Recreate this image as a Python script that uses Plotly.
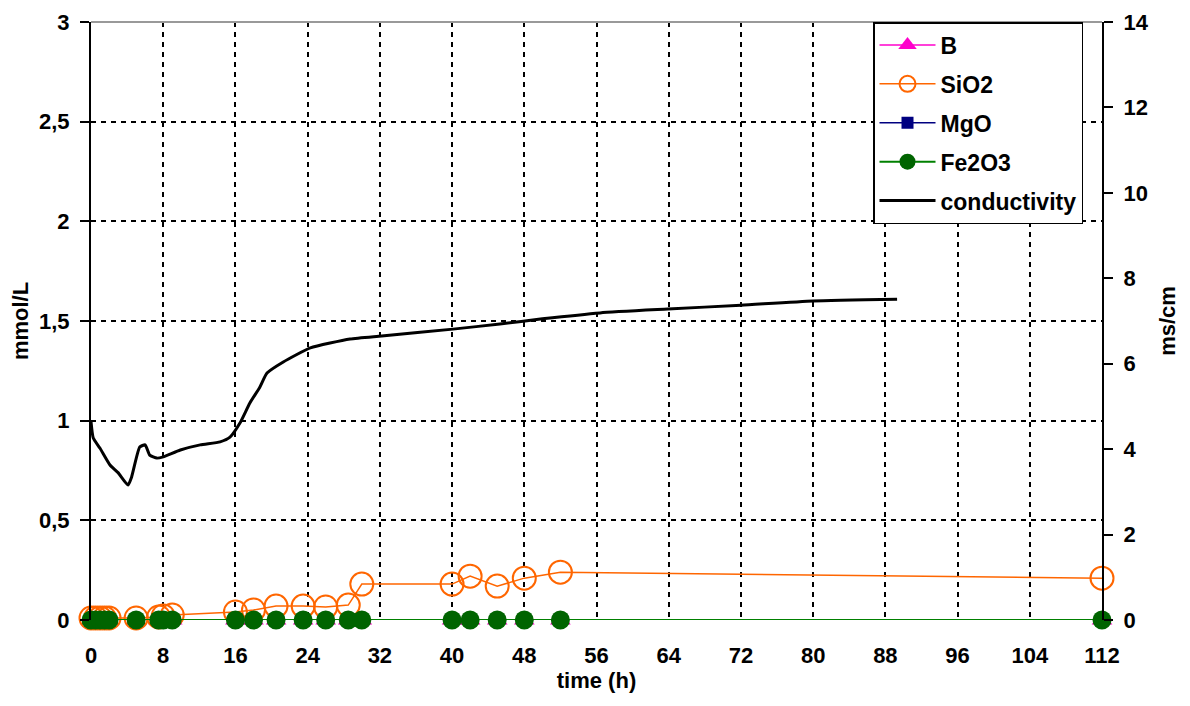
import plotly.graph_objects as go

# ---- data ----
sample_time_h = [0, 0.5, 1, 1.5, 2, 5, 7.5, 8, 9, 16, 18, 20.5, 23.5, 26, 28.5, 30,
                 40, 42, 45, 48, 52, 112]
b_mmol = [0] * 22
sio2_mmol = [0.01, 0.01, 0.01, 0.01, 0.01, 0.01, 0.015, 0.02, 0.025, 0.04, 0.05, 0.07,
             0.07, 0.065, 0.075, 0.18, 0.18, 0.22, 0.17, 0.21, 0.24, 0.21]
mgo_mmol = [0] * 22
fe2o3_mmol = [0] * 22

cond_time_h = [0, 0.25, 1.0, 2.1, 3.0, 4.1, 4.5, 5.4, 6.0, 6.5, 7.3, 8.0, 9.9, 12.1,
               14.3, 15.4, 16.5, 17.6, 18.7, 19.5, 21.3, 24.3, 28.7, 32.2, 40.1, 45.3,
               50.0, 56.4, 63.9, 72.0, 80.0, 89.3]
cond_ms = [4.65, 4.26, 4.02, 3.63, 3.45, 3.16, 3.35, 4.05, 4.10, 3.86, 3.79, 3.82,
           3.98, 4.10, 4.17, 4.28, 4.61, 5.08, 5.45, 5.78, 6.04, 6.37, 6.58, 6.65,
           6.81, 6.93, 7.05, 7.19, 7.28, 7.37, 7.47, 7.51]

x_ticks = list(range(0, 113, 8))
y_ticks = [0, 0.5, 1, 1.5, 2, 2.5, 3]
y_tick_text = ["0", "0,5", "1", "1,5", "2", "2,5", "3"]
y2_ticks = list(range(0, 15, 2))

FONT = "Liberation Sans, Arial, sans-serif"
FS = 22

fig = go.Figure()
fig.add_trace(go.Scatter(
    x=sample_time_h, y=b_mmol, name="B", mode="lines+markers", legendgroup="b",
    cliponaxis=False,
    line=dict(color="#FF00CC", width=1.5),
    marker=dict(symbol="triangle-up", size=18, color="#FF00CC")))
fig.add_trace(go.Scatter(
    x=sample_time_h, y=sio2_mmol, name="SiO2", mode="lines+markers", legendgroup="s",
    cliponaxis=False,
    line=dict(color="#FF6600", width=1.5),
    marker=dict(symbol="circle-open", size=23, color="#FF6600",
                line=dict(width=2, color="#FF6600"))))
fig.add_trace(go.Scatter(
    x=sample_time_h, y=mgo_mmol, name="MgO", mode="lines+markers", legendgroup="m",
    cliponaxis=False,
    line=dict(color="#000080", width=1.5),
    marker=dict(symbol="square", size=12, color="#000080")))
fig.add_trace(go.Scatter(
    x=sample_time_h, y=fe2o3_mmol, name="Fe2O3", mode="lines+markers", legendgroup="f",
    cliponaxis=False,
    line=dict(color="#008000", width=2),
    marker=dict(symbol="circle", size=19, color="#006400")))
fig.add_trace(go.Scatter(
    x=cond_time_h, y=cond_ms, name="conductivity", mode="lines", legendgroup="c",
    line=dict(color="black", width=3, shape="spline", smoothing=0.5), yaxis="y2"))

fig.update_layout(
    width=1174, height=690,
    margin=dict(l=83, r=80, t=14, b=78, autoexpand=False),
    paper_bgcolor="white", plot_bgcolor="white",
    font=dict(family=FONT, size=FS, color="black", weight="bold"),
    showlegend=True,
    legend=dict(x=0.7735, y=1, xanchor="left", yanchor="top",
                bgcolor="white", bordercolor="black", borderwidth=1.5,
                font=dict(size=23, weight="bold"), tracegroupgap=6,
                itemwidth=56),
    xaxis=dict(range=[0, 112], tickvals=x_ticks, showgrid=True, gridcolor="black",
               griddash="5px,5px", gridwidth=1.5, showline=False,
               zeroline=False, ticks="", ticklen=0, automargin=False,
               ticklabelstandoff=20,
               title=dict(text="time (h)", standoff=2, font=dict(size=FS, weight="bold"))),
    yaxis=dict(range=[0, 3], tickvals=y_ticks, ticktext=y_tick_text, showgrid=True,
               gridcolor="black", griddash="5px,5px", gridwidth=1.5, showline=True,
               linecolor="black", linewidth=2, zeroline=False, ticks="outside",
               ticklen=9, tickcolor="black", tickwidth=1.5, automargin=False,
               ticklabelstandoff=6,
               title=dict(text="mmol/L", standoff=10, font=dict(size=FS, weight="bold"))),
    yaxis2=dict(range=[0, 14], tickvals=y2_ticks, overlaying="y", side="right",
                showgrid=False, showline=True, linecolor="black", linewidth=2,
                zeroline=False, ticks="outside", ticklen=9, tickcolor="black",
                tickwidth=1.5, automargin=False, ticklabelstandoff=6,
                title=dict(text="ms/cm", standoff=12, font=dict(size=FS, weight="bold"))),
    shapes=[dict(type="line", xref="paper", yref="paper", x0=0, x1=1, y0=1, y1=1,
                 line=dict(color="#999999", width=2))],
)

fig.write_html("out.html")
